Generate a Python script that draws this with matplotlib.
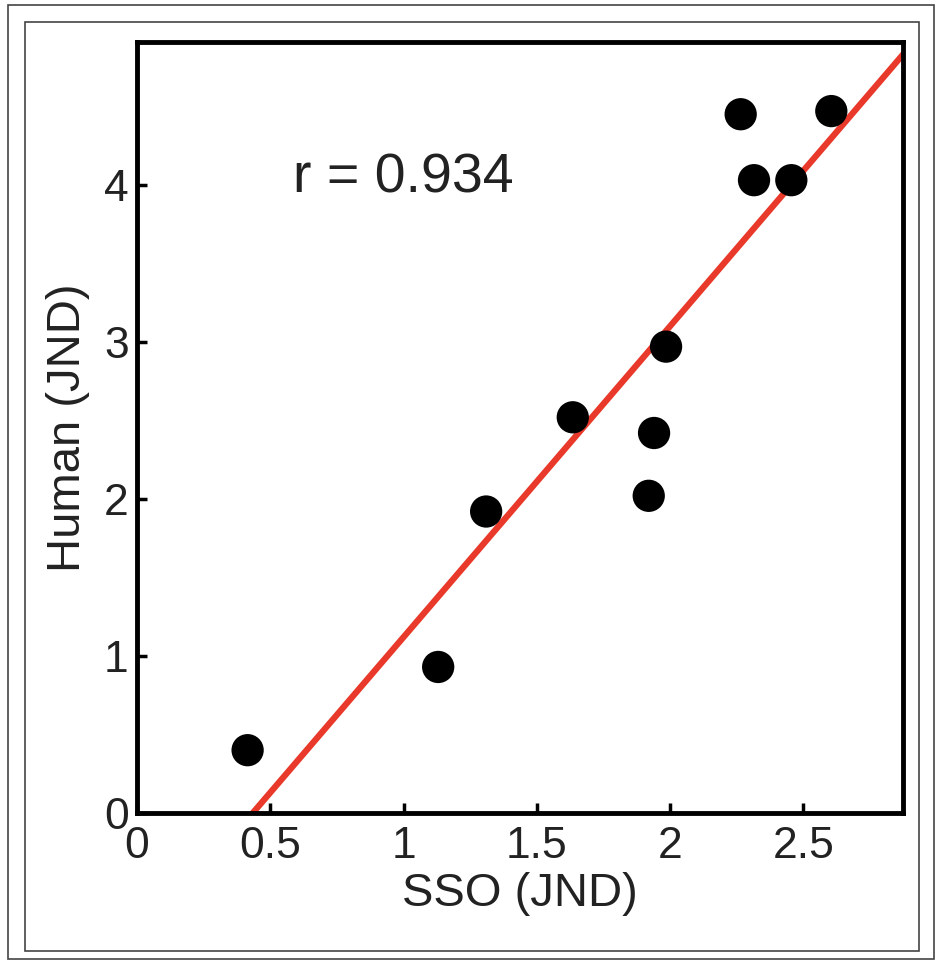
import matplotlib
matplotlib.use("Agg")
import matplotlib.pyplot as plt
import numpy as np
from matplotlib.patches import Rectangle

plt.rcParams['font.family'] = ['Liberation Sans', 'DejaVu Sans']

sso = [0.415, 1.13, 1.31, 1.635, 1.92, 1.94, 1.985, 2.265, 2.315, 2.455, 2.605]
human = [0.40, 0.93, 1.92, 2.52, 2.02, 2.42, 2.97, 4.45, 4.03, 4.03, 4.47]
fit_intercept = -0.86
fit_slope = 1.98
r_text = "r = 0.934"
xticks = [0, 0.5, 1, 1.5, 2, 2.5]
xticklabels = ["0", "0.5", "1", "1.5", "2", "2.5"]
yticks = [0, 1, 2, 3, 4]
yticklabels = ["0", "1", "2", "3", "4"]

fig = plt.figure(figsize=(9.4, 9.61), dpi=100)
W, H = 940, 961
# frames
fig.patches.append(Rectangle((8 / W, 1 - 959 / H), (934 - 8) / W, (959 - 5) / H,
                             transform=fig.transFigure, fill=False, ec='#444444', lw=1.2))
fig.patches.append(Rectangle((25 / W, 1 - 951 / H), (919 - 25) / W, (951 - 22) / H,
                             transform=fig.transFigure, fill=False, ec='#444444', lw=1.2))

ax = fig.add_axes([137 / W, 1 - 813 / H, (903 - 137) / W, (813 - 42) / H])
ax.set_xlim(0, 2.874)
ax.set_ylim(0, 4.91)

xs = np.array([0.0, 2.874])
ax.plot(xs, fit_intercept + fit_slope * xs, color='#E8392A', lw=4.5, zorder=2, clip_on=True)
ax.scatter(sso, human, s=540, color='black', zorder=3, edgecolors='none')

ax.text(0.585, 4.04, r_text, fontsize=40, va='center', ha='left', color='#222222')

ax.set_xticks(xticks)
ax.set_xticklabels(xticklabels)
ax.set_yticks(yticks)
ax.set_yticklabels(yticklabels)
ax.tick_params(direction='in', length=7, width=2.5, labelsize=32, colors='black',
               labelcolor='#222222')
ax.tick_params(axis='x', pad=9)
ax.tick_params(axis='y', pad=6)
for s in ax.spines.values():
    s.set_linewidth(3.5)
ax.set_xlabel("SSO (JND)", fontsize=34, color='#222222', labelpad=4)
ax.set_ylabel("Human (JND)", fontsize=34, color='#222222', labelpad=10)

fig.savefig("out.png", dpi=100)
